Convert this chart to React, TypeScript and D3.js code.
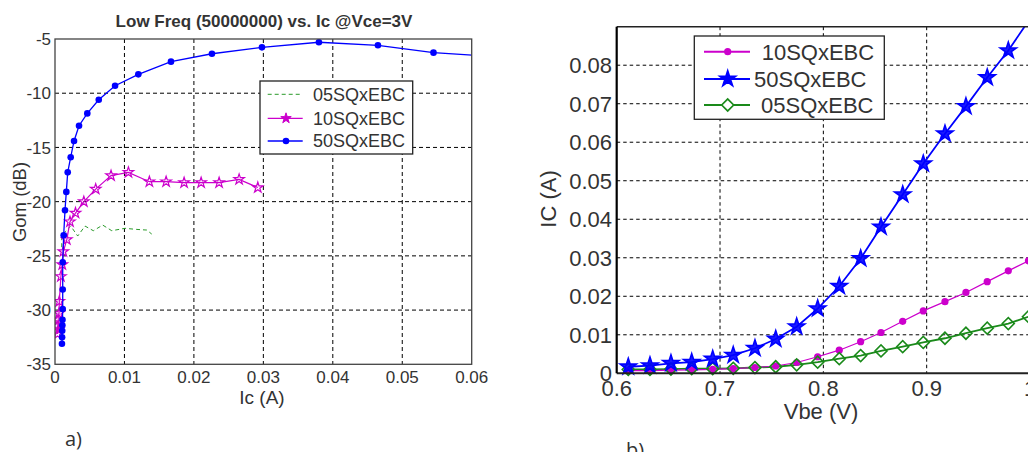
import React from "react";
import * as d3 from "d3";

// ---------- Left chart (a): Gom vs Ic ----------
const leftTitle = "Low Freq (50000000)  vs. Ic @Vce=3V";
const leftXTicks = [0, 0.01, 0.02, 0.03, 0.04, 0.05, 0.06];
const leftYTicks = [-35, -30, -25, -20, -15, -10, -5];

const gom05: [number, number][] = [
  [0.00097, -24.2], [0.00097, -23.1], [0.0017, -22.6], [0.00226, -22.25], [0.00327, -23.17],
  [0.00432, -22.25], [0.00552, -22.68], [0.00687, -22.16], [0.00817, -22.68], [0.01009, -22.46],
  [0.01177, -22.56], [0.01321, -22.62], [0.01393, -22.99],
];
const gom10: [number, number][] = [
  [0.0003, -31.5], [0.00038, -32.2], [0.00045, -30.9], [0.00052, -31.8], [0.00058, -30.3],
  [0.00062, -29.2], [0.00085, -26.9], [0.00105, -25.8], [0.0012, -24.6], [0.0017, -23.5],
  [0.00216, -21.85], [0.00295, -21.05], [0.00415, -20.0], [0.00586, -18.84], [0.00807, -17.6],
  [0.01057, -17.3], [0.01359, -18.16], [0.016, -18.16], [0.01859, -18.25], [0.02104, -18.25],
  [0.02363, -18.25], [0.02651, -17.95], [0.0292, -18.7],
];
const gom50: [number, number][] = [
  [0.001, -33.1], [0.00102, -32.5], [0.00104, -31.9], [0.00106, -31.4], [0.00108, -30.9],
  [0.00111, -29.9], [0.00111, -28.1], [0.00111, -25.6], [0.00125, -23.1], [0.00144, -20.8],
  [0.00163, -19.1], [0.00183, -17.3], [0.00226, -15.9], [0.00274, -14.4], [0.00346, -13.0],
  [0.00465, -11.86], [0.0063, -10.6], [0.00865, -9.31], [0.012, -8.26], [0.0167, -7.09],
  [0.0226, -6.36], [0.0298, -5.77], [0.038, -5.3], [0.0465, -5.58], [0.0545, -6.26], [0.0625, -6.6],
];

// ---------- Right chart (b): IC vs Vbe ----------
const vbe = [
  0.6112, 0.6322, 0.6525, 0.6726, 0.6929, 0.7128, 0.7338, 0.7539, 0.7742, 0.7945,
  0.8154, 0.8361, 0.8558, 0.8768, 0.8967, 0.9177, 0.938, 0.9586, 0.979, 0.9985,
];
const ic10 = [
  0.0007, 0.0007, 0.0008, 0.0009, 0.001, 0.0012, 0.0015, 0.0019, 0.0028, 0.0043,
  0.006, 0.0082, 0.0106, 0.0135, 0.0162, 0.0186, 0.021, 0.0238, 0.0266, 0.0292,
];
const ic50 = [
  0.0017, 0.002, 0.0026, 0.0029, 0.0037, 0.0047, 0.0065, 0.0089, 0.0121, 0.0168,
  0.0226, 0.0298, 0.038, 0.0464, 0.0544, 0.0622, 0.0693, 0.0768, 0.0838, 0.0915,
];
const ic05 = [
  0.001, 0.001, 0.0011, 0.0012, 0.0012, 0.0013, 0.0015, 0.0017, 0.0022, 0.0029,
  0.0038, 0.0046, 0.0058, 0.0069, 0.008, 0.0091, 0.0104, 0.0117, 0.0129, 0.0147,
];
const rightXTicks = [0.6, 0.7, 0.8, 0.9, 1.0];
const rightYTicks = [0, 0.01, 0.02, 0.03, 0.04, 0.05, 0.06, 0.07, 0.08];

const BLUE = "#0000ff";
const MAG = "#cc00cc";
const GREEN = "#1a8a1a";
const TXT = "#333";
const FONT = "'Liberation Sans', Arial, sans-serif";

const starPath = (R: number) => d3.symbol(d3.symbolStar, (R * R) / 0.8908130915292852)()!;
const squarePath = (halfDiag: number) => d3.symbol(d3.symbolSquare, 2 * halfDiag * halfDiag)()!;

function LeftChart() {
  const x = d3.scaleLinear().domain([0, 0.06]).range([55, 471.7]);
  const y = d3.scaleLinear().domain([-35, -5]).range([364.3, 39]);
  const line = d3.line<[number, number]>().x((d) => x(d[0])).y((d) => y(d[1]));
  const [x0, x1] = x.range();
  const [y0, y1] = y.range();
  const star = starPath(5.5);
  return (
    <g fontFamily={FONT}>
      <defs>
        <clipPath id="clipL">
          <rect x={x0} y={y1} width={x1 - x0} height={y0 - y1} />
        </clipPath>
      </defs>
      <rect x={x0} y={y1} width={x1 - x0} height={y0 - y1} fill="white" />
      {leftXTicks.slice(1, -1).map((t) => (
        <line key={"gx" + t} x1={x(t)} x2={x(t)} y1={y1} y2={y0} stroke="#000" strokeDasharray="4,3" strokeWidth={1} />
      ))}
      {leftYTicks.slice(1, -1).map((t) => (
        <line key={"gy" + t} x1={x0} x2={x1} y1={y(t)} y2={y(t)} stroke="#000" strokeDasharray="4,3" strokeWidth={1} />
      ))}
      <g clipPath="url(#clipL)">
        <path d={line(gom05)!} fill="none" stroke="#2a9a2a" strokeWidth={1} strokeDasharray="4,3" />
        <path d={line(gom10)!} fill="none" stroke={MAG} strokeWidth={1.2} />
        {gom10.map((d, i) => (
          <path key={"s" + i} d={star} transform={`translate(${x(d[0])},${y(d[1])})`} fill="none" stroke={MAG} strokeWidth={1.2} />
        ))}
        <path d={line(gom50)!} fill="none" stroke={BLUE} strokeWidth={1.3} />
        {gom50.map((d, i) => (
          <circle key={"c" + i} cx={x(d[0])} cy={y(d[1])} r={3.3} fill={BLUE} />
        ))}
      </g>
      <rect x={x0} y={y1} width={x1 - x0} height={y0 - y1} fill="none" stroke="#444" strokeWidth={1.3} />
      {leftXTicks.map((t) => (
        <text key={"xt" + t} x={x(t)} y={383} textAnchor="middle" fontSize={17} fill={TXT}>
          {t === 0 ? "0" : d3.format(".2f")(t)}
        </text>
      ))}
      {leftYTicks.map((t) => (
        <text key={"yt" + t} x={51} y={y(t)} dy="0.36em" textAnchor="end" fontSize={17} fill={TXT}>
          {t}
        </text>
      ))}
      <text x={264} y={27} textAnchor="middle" fontSize={17} fontWeight="bold" fill={TXT}>
        {leftTitle}
      </text>
      <text x={262} y={404} textAnchor="middle" fontSize={19} fill={TXT}>Ic (A)</text>
      <text transform="translate(26,202) rotate(-90)" textAnchor="middle" fontSize={18.5} fill={TXT}>Gom (dB)</text>
      <text x={65} y={446} fontSize={20} fill={TXT} fontFamily="'Open Sans', sans-serif">a)</text>
      {/* legend */}
      <rect x={260} y={81} width={152.7} height={73} fill="white" stroke="#222" strokeWidth={1.3} />
      <line x1={267.7} x2={302.7} y1={94.3} y2={94.3} stroke="#2a9a2a" strokeDasharray="4,3" />
      <text x={313} y={94.3} dy="0.36em" fontSize={18} fill={TXT}>05SQxEBC</text>
      <line x1={267.7} x2={302.7} y1={118.3} y2={118.3} stroke={MAG} strokeWidth={1.2} />
      <path d={star} transform="translate(286,118.3)" fill={MAG} stroke={MAG} />
      <text x={313} y={118.3} dy="0.36em" fontSize={18} fill={TXT}>10SQxEBC</text>
      <line x1={267.7} x2={302.7} y1={141} y2={141} stroke={BLUE} strokeWidth={1.3} />
      <circle cx={286} cy={141} r={3.3} fill={BLUE} />
      <text x={313} y={141} dy="0.36em" fontSize={18} fill={TXT}>50SQxEBC</text>
    </g>
  );
}

function RightChart() {
  const x = d3.scaleLinear().domain([0.6, 1.0]).range([616.7, 1030]);
  const y = d3.scaleLinear().domain([0, 0.09]).range([373.3, 26.7]);
  const [x0, x1] = x.range();
  const [y0, y1] = y.range();
  const mk = (vals: number[]) => vals.map((v, i) => [vbe[i], v] as [number, number]);
  const s10 = mk(ic10), s50 = mk(ic50), s05 = mk(ic05);
  const line = d3.line<[number, number]>().x((d) => x(d[0])).y((d) => y(d[1]));
  const star = starPath(8.5);
  const diamond = squarePath(6);
  return (
    <g fontFamily={FONT}>
      <defs>
        <clipPath id="clipR">
          <rect x={x0 - 8} y={y1} width={x1 - x0 + 16} height={y0 - y1 + 8} />
        </clipPath>
        <clipPath id="clipRL">
          <rect x={x0} y={y1} width={x1 - x0} height={y0 - y1} />
        </clipPath>
      </defs>
      <rect x={x0} y={y1} width={x1 - x0} height={y0 - y1} fill="white" />
      {rightXTicks.slice(1, -1).map((t) => (
        <line key={"gx" + t} x1={x(t)} x2={x(t)} y1={y1} y2={y0} stroke="#000" strokeDasharray="3.5,3" />
      ))}
      {rightYTicks.slice(1).map((t) => (
        <line key={"gy" + t} x1={x0} x2={x1} y1={y(t)} y2={y(t)} stroke="#000" strokeDasharray="3.5,3" />
      ))}
      <g clipPath="url(#clipRL)">
        <path d={line(s05)!} fill="none" stroke={GREEN} strokeWidth={1.8} />
        <path d={line(s10)!} fill="none" stroke={MAG} strokeWidth={1.2} />
        <path d={line(s50)!} fill="none" stroke={BLUE} strokeWidth={1.8} />
      </g>
      <g clipPath="url(#clipR)">
        {s10.map((d, i) => (
          <circle key={"m" + i} cx={x(d[0])} cy={y(d[1])} r={3.6} fill={MAG} />
        ))}
        {s05.map((d, i) => (
          <path key={"d" + i} d={diamond} transform={`translate(${x(d[0])},${y(d[1])}) rotate(45)`} fill="none" stroke={GREEN} strokeWidth={1.6} />
        ))}
        {s50.map((d, i) =>
          y(d[1]) > y1 ? (
            <path key={"b" + i} d={star} transform={`translate(${x(d[0])},${y(d[1])})`} fill={BLUE} fillOpacity={0.9} stroke={BLUE} strokeWidth={1.6} strokeLinejoin="miter" />
          ) : null
        )}
      </g>
      <line x1={x0} x2={x1} y1={y1} y2={y1} stroke="#222" strokeWidth={1.5} />
      <line x1={x0} x2={x1} y1={y0} y2={y0} stroke="#222" strokeWidth={2} />
      <line x1={x0} x2={x0} y1={y1} y2={y0} stroke="#000" strokeWidth={2.2} />
      {rightXTicks.map((t) => (
        <text key={"xt" + t} x={x(t)} y={396} textAnchor="middle" fontSize={22} fill={TXT}>
          {t === 1 ? "1" : d3.format(".1f")(t)}
        </text>
      ))}
      {rightYTicks.map((t) => (
        <text key={"yt" + t} x={612} y={y(t)} dy="0.36em" textAnchor="end" fontSize={22} fill={TXT}>
          {t === 0 ? "0" : d3.format(".2f")(t)}
        </text>
      ))}
      <text x={821} y={419} textAnchor="middle" fontSize={22} fill={TXT}>Vbe (V)</text>
      <text transform="translate(556,199) rotate(-90)" textAnchor="middle" fontSize={22} fill={TXT}>IC (A)</text>
      <text x={626} y={457} fontSize={20} fill={TXT} fontFamily="'Open Sans', sans-serif">b)</text>
      {/* legend */}
      <rect x={694.3} y={36} width={190} height={83.3} fill="white" stroke="#222" strokeWidth={1.3} />
      <line x1={704} x2={750} y1={51.7} y2={51.7} stroke={MAG} strokeWidth={2} />
      <circle cx={727.7} cy={51.7} r={3.6} fill={MAG} />
      <text x={761.7} y={51.7} dy="0.36em" fontSize={22} fill={TXT}>10SQxEBC</text>
      <line x1={704} x2={750} y1={79} y2={79} stroke={BLUE} strokeWidth={2.2} />
      <path d={star} transform="translate(727.7,79)" fill={BLUE} stroke={BLUE} strokeWidth={1.5} />
      <text x={754} y={79} dy="0.36em" fontSize={22} fill={TXT}>50SQxEBC</text>
      <line x1={704} x2={750} y1={105} y2={105} stroke={GREEN} strokeWidth={2.2} />
      <path d={diamond} transform="translate(727.7,105) rotate(45)" fill="white" stroke={GREEN} strokeWidth={1.6} />
      <text x={761} y={105} dy="0.36em" fontSize={22} fill={TXT}>05SQxEBC</text>
    </g>
  );
}

export default function App() {
  return (
    <svg width={1028} height={452} style={{ position: "absolute", left: 0, top: 0, background: "white" }}>
      <rect width={1028} height={452} fill="white" />
      <LeftChart />
      <RightChart />
    </svg>
  );
}
